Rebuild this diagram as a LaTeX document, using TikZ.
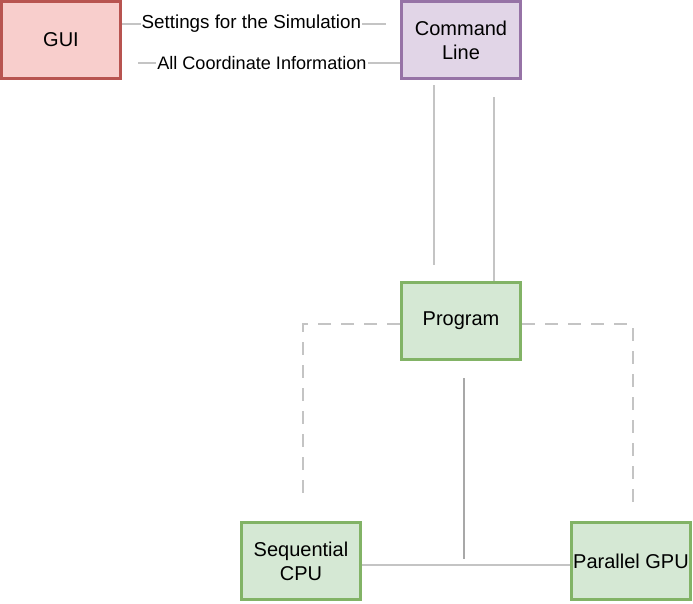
\documentclass[tikz,border=0pt]{standalone}
\usepackage{fontspec}
\setmainfont{Liberation Sans}
\definecolor{redfill}{HTML}{F8CECC}
\definecolor{redline}{HTML}{B85450}
\definecolor{purfill}{HTML}{E1D5E7}
\definecolor{purline}{HTML}{9673A6}
\definecolor{grnfill}{HTML}{D5E8D4}
\definecolor{grnline}{HTML}{82B366}
\definecolor{conn}{HTML}{C4C4C4}
\definecolor{connd}{HTML}{A8A8A8}
\tikzset{
  box/.style={draw, line width=3pt, minimum width=119pt, minimum height=77pt, inner sep=0pt,
    align=center, font=\fontsize{20}{24}\selectfont},
  redbox/.style={box, fill=redfill, draw=redline},
  purbox/.style={box, fill=purfill, draw=purline},
  grnbox/.style={box, fill=grnfill, draw=grnline},
  wire/.style={draw=conn, line width=2.3pt},
  dwire/.style={draw=conn, line width=2.5pt, dash pattern=on 13pt off 10pt},
  lbl/.style={fill=white, inner sep=1pt, font=\fontsize{18.8}{20}\selectfont},
  lbls/.style={lbl, font=\fontsize{18.1}{20}\selectfont}
}
\begin{document}
\begin{tikzpicture}[x=1pt,y=-1pt]
\useasboundingbox (0,0) rectangle (693,603);
% nodes
\node[redbox] (GUI) at (61,40) {GUI};
\node[purbox] (CL) at (461,40) {Command\\Line};
\node[grnbox] (Prog) at (461,321) {Program};
\node[grnbox] (SCPU) at (301,561) {Sequential\\CPU};
\node[grnbox] (PGPU) at (631,561) {Parallel GPU};
% free ends
\coordinate (c1) at (386,24);
\coordinate (c2) at (138,63);
\coordinate (c3) at (434,85);
\coordinate (c4) at (434,265);
\coordinate (c5) at (494,97);
\coordinate (yd) at (0,324);
\coordinate (c6) at (303,500);
\coordinate (c7) at (633,503);
\coordinate (c8) at (464,378);
\coordinate (c9) at (464,559);
\coordinate (yh) at (0,565);
% connectors
\draw[wire] (GUI.east |- c1) -- node[lbl, pos=0.49] {Settings for the Simulation} (c1);
\draw[wire] (c2) -- node[lbls, pos=0.473] {All Coordinate Information} (CL.west |- c2);
\draw[wire] (c3) -- (c4);
\draw[wire] (c5) -- (Prog.north -| c5);
\draw[dwire] (Prog.west |- yd) -| (c6);
\draw[dwire] (Prog.east |- yd) -| (c7);
\draw[wire, draw=connd] (c8) -- (c9);
\draw[wire] (SCPU.east |- yh) -- (PGPU.west |- yh);
\end{tikzpicture}
\end{document}
